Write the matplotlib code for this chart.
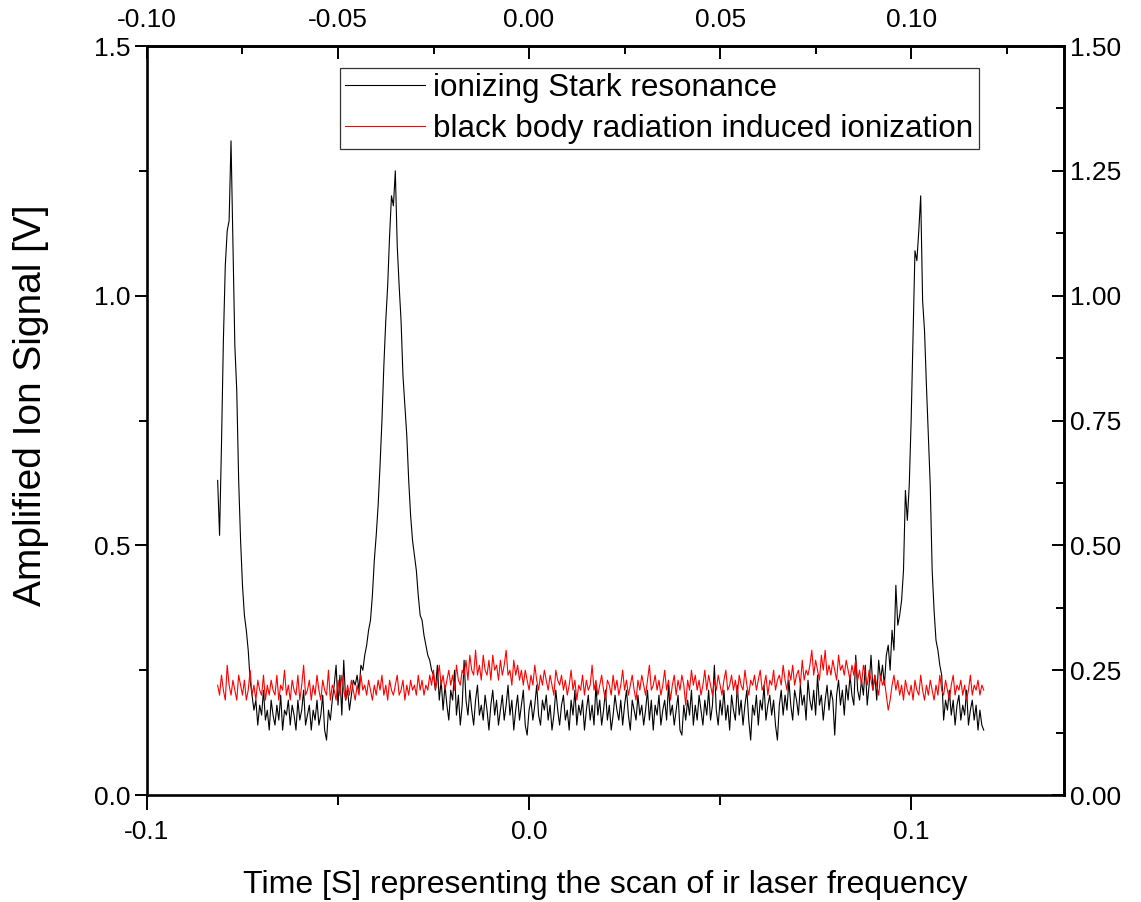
# stark_scan.py
# Ion signal during the ir laser scan: Stark resonances vs black body ionization

import numpy as np
import matplotlib
matplotlib.use("Agg")
import matplotlib.pyplot as plt
from matplotlib.ticker import MultipleLocator, FormatStrFormatter

plt.rcParams['font.family'] = ['Liberation Sans', 'DejaVu Sans']
plt.rcParams['axes.unicode_minus'] = False

# scan window (time axis, evenly sampled)
t_start = -0.0815
t_end = 0.1190

# ionizing Stark resonance trace [V]
stark = [
    0.63, 0.52, 0.70, 0.91, 1.06, 1.13, 1.15, 1.31, 1.10, 0.90,
    0.81, 0.63, 0.51, 0.42, 0.36, 0.33, 0.29, 0.23, 0.20, 0.17,
    0.19, 0.14, 0.18, 0.16, 0.21, 0.15, 0.17, 0.13, 0.19, 0.16,
    0.14, 0.18, 0.15, 0.20, 0.13, 0.17, 0.16, 0.19, 0.14, 0.18,
    0.16, 0.13, 0.19, 0.15, 0.17, 0.21, 0.14, 0.16, 0.18, 0.13,
    0.17, 0.15, 0.19, 0.14, 0.16, 0.20, 0.13, 0.11, 0.17, 0.15,
    0.19, 0.22, 0.26, 0.18, 0.24, 0.16, 0.27, 0.19, 0.21, 0.17,
    0.20, 0.23, 0.22, 0.24, 0.21, 0.26, 0.25, 0.28, 0.30, 0.33,
    0.35, 0.40, 0.47, 0.52, 0.58, 0.66, 0.75, 0.86, 0.95, 1.02,
    1.12, 1.20, 1.18, 1.25, 1.10, 1.02, 0.95, 0.84, 0.78, 0.72,
    0.63, 0.56, 0.51, 0.48, 0.45, 0.40, 0.36, 0.35, 0.32, 0.30,
    0.28, 0.27, 0.25, 0.24, 0.21, 0.26, 0.19, 0.23, 0.17, 0.22,
    0.18, 0.15, 0.21, 0.19, 0.25, 0.16, 0.20, 0.14, 0.18, 0.27,
    0.19, 0.16, 0.21, 0.17, 0.14, 0.19, 0.22, 0.16, 0.18, 0.15,
    0.20, 0.17, 0.13, 0.18, 0.21, 0.16, 0.19, 0.14, 0.17, 0.20,
    0.15, 0.18, 0.22, 0.16, 0.19, 0.13, 0.17, 0.20, 0.15, 0.18,
    0.21, 0.14, 0.12, 0.17, 0.19, 0.15, 0.18, 0.22, 0.16, 0.14,
    0.19, 0.17, 0.20, 0.15, 0.18, 0.13, 0.16, 0.21, 0.17, 0.14,
    0.18, 0.20, 0.15, 0.17, 0.13, 0.19, 0.16, 0.21, 0.14, 0.18,
    0.16, 0.19, 0.13, 0.17, 0.20, 0.15, 0.18, 0.14, 0.22, 0.16,
    0.19, 0.14, 0.17, 0.21, 0.15, 0.18, 0.13, 0.16, 0.20, 0.17,
    0.15, 0.19, 0.14, 0.18, 0.21, 0.16, 0.13, 0.19, 0.17, 0.15,
    0.20, 0.16, 0.18, 0.14, 0.17, 0.21, 0.15, 0.19, 0.13, 0.18,
    0.16, 0.20, 0.14, 0.17, 0.19, 0.15, 0.22, 0.16, 0.18, 0.14,
    0.17, 0.20, 0.13, 0.12, 0.18, 0.15, 0.19, 0.16, 0.21, 0.14,
    0.18, 0.15, 0.20, 0.17, 0.14, 0.19, 0.16, 0.21, 0.15, 0.18,
    0.26, 0.17, 0.14, 0.19, 0.16, 0.21, 0.15, 0.18, 0.13, 0.20,
    0.17, 0.15, 0.22, 0.16, 0.19, 0.14, 0.18, 0.21, 0.15, 0.11,
    0.18, 0.16, 0.20, 0.14, 0.19, 0.17, 0.22, 0.15, 0.18, 0.20,
    0.16, 0.19, 0.14, 0.11, 0.18, 0.21, 0.16, 0.20, 0.17, 0.23,
    0.18, 0.15, 0.21, 0.19, 0.16, 0.22, 0.18, 0.20, 0.15, 0.23,
    0.19, 0.17, 0.21, 0.16, 0.24, 0.18, 0.20, 0.15, 0.19, 0.22,
    0.17, 0.21, 0.19, 0.12, 0.20, 0.23, 0.18, 0.21, 0.16, 0.22,
    0.19, 0.24, 0.20, 0.18, 0.28, 0.21, 0.19, 0.23, 0.20, 0.26,
    0.18, 0.22, 0.28, 0.21, 0.24, 0.19, 0.27, 0.23, 0.26, 0.22,
    0.28, 0.30, 0.25, 0.33, 0.29, 0.42, 0.34, 0.36, 0.39, 0.45,
    0.61, 0.55, 0.62, 0.75, 0.92, 1.09, 1.07, 1.13, 1.20, 0.99,
    0.93, 0.82, 0.72, 0.62, 0.45, 0.37, 0.31, 0.29, 0.26, 0.24,
    0.15, 0.19, 0.17, 0.21, 0.16, 0.19, 0.14, 0.18, 0.20, 0.15,
    0.18, 0.16, 0.21, 0.14, 0.17, 0.19, 0.15, 0.18, 0.13, 0.17,
    0.14, 0.13,
]

# black body radiation induced ionization trace [V]
blackbody = [
    0.22, 0.20, 0.24, 0.21, 0.19, 0.26, 0.22, 0.20, 0.23, 0.21,
    0.19, 0.24, 0.22, 0.20, 0.23, 0.19, 0.21, 0.25, 0.20, 0.22,
    0.19, 0.23, 0.21, 0.20, 0.24, 0.19, 0.22, 0.20, 0.23, 0.21,
    0.20, 0.24, 0.19, 0.22, 0.21, 0.25, 0.20, 0.22, 0.19, 0.23,
    0.21, 0.20, 0.24, 0.19, 0.22, 0.26, 0.20, 0.21, 0.23, 0.19,
    0.22, 0.20, 0.24, 0.21, 0.19, 0.23, 0.21, 0.20, 0.25, 0.19,
    0.22, 0.21, 0.19, 0.23, 0.20, 0.24, 0.21, 0.19, 0.22, 0.20,
    0.23, 0.21, 0.19, 0.22, 0.20, 0.24, 0.21, 0.22, 0.20, 0.23,
    0.21, 0.19, 0.22, 0.20, 0.23, 0.21, 0.24, 0.20, 0.22, 0.19,
    0.23, 0.21, 0.20, 0.22, 0.24, 0.20, 0.21, 0.23, 0.19, 0.22,
    0.20, 0.23, 0.21, 0.22, 0.20, 0.24, 0.21, 0.23, 0.20, 0.22,
    0.21, 0.24, 0.22, 0.25, 0.21, 0.23, 0.26, 0.22, 0.24, 0.21,
    0.23, 0.25, 0.22, 0.24, 0.21, 0.26, 0.23, 0.22, 0.25, 0.24,
    0.27, 0.23, 0.28, 0.25, 0.24, 0.29, 0.24, 0.26, 0.23, 0.28,
    0.25, 0.24, 0.27, 0.23, 0.28, 0.25, 0.26, 0.23, 0.27, 0.24,
    0.26, 0.29, 0.24, 0.25, 0.22, 0.27, 0.24, 0.26, 0.23, 0.25,
    0.22, 0.25, 0.23, 0.21, 0.24, 0.22, 0.26, 0.23, 0.21, 0.24,
    0.22, 0.25, 0.23, 0.21, 0.24, 0.22, 0.20, 0.25, 0.23, 0.22,
    0.24, 0.21, 0.23, 0.20, 0.22, 0.25, 0.21, 0.23, 0.19, 0.22,
    0.21, 0.24, 0.20, 0.23, 0.21, 0.22, 0.26, 0.21, 0.23, 0.20,
    0.22, 0.24, 0.21, 0.19, 0.23, 0.22, 0.20, 0.24, 0.21, 0.23,
    0.20, 0.22, 0.25, 0.21, 0.23, 0.20, 0.22, 0.24, 0.21, 0.19,
    0.23, 0.21, 0.24, 0.22, 0.20, 0.23, 0.26, 0.21, 0.22, 0.24,
    0.21, 0.23, 0.20, 0.22, 0.25, 0.21, 0.23, 0.19, 0.22, 0.24,
    0.20, 0.23, 0.21, 0.24, 0.22, 0.18, 0.23, 0.21, 0.25, 0.22,
    0.24, 0.21, 0.23, 0.20, 0.22, 0.25, 0.21, 0.24, 0.22, 0.20,
    0.23, 0.21, 0.24, 0.22, 0.20, 0.23, 0.25, 0.21, 0.22, 0.24,
    0.21, 0.23, 0.20, 0.24, 0.22, 0.21, 0.25, 0.22, 0.20, 0.23,
    0.22, 0.24, 0.21, 0.23, 0.25, 0.21, 0.22, 0.24, 0.20, 0.23,
    0.22, 0.25, 0.21, 0.23, 0.24, 0.22, 0.26, 0.23, 0.21, 0.25,
    0.23, 0.26, 0.22, 0.24, 0.25, 0.22, 0.27, 0.23, 0.25, 0.24,
    0.26, 0.29, 0.24, 0.27, 0.25, 0.23, 0.28, 0.25, 0.29, 0.24,
    0.26, 0.24, 0.27, 0.25, 0.23, 0.28, 0.25, 0.26, 0.24, 0.27,
    0.25, 0.23, 0.26, 0.24, 0.27, 0.23, 0.25, 0.22, 0.26, 0.24,
    0.22, 0.25, 0.23, 0.21, 0.24, 0.22, 0.20, 0.24, 0.22, 0.23,
    0.20, 0.17, 0.19, 0.22, 0.24, 0.21, 0.23, 0.20, 0.22, 0.19,
    0.23, 0.21, 0.20, 0.22, 0.19, 0.23, 0.21, 0.20, 0.24, 0.21,
    0.19, 0.22, 0.20, 0.23, 0.21, 0.19, 0.22, 0.20, 0.24, 0.21,
    0.20, 0.23, 0.21, 0.19, 0.22, 0.24, 0.20, 0.22, 0.21, 0.23,
    0.20, 0.22, 0.19, 0.21, 0.24, 0.20, 0.22, 0.21, 0.23, 0.20,
    0.22, 0.21,
]

series_labels = ["ionizing Stark resonance",
                 "black body radiation induced ionization"]
series_colors = ["black", "red"]

x_label = "Time [S] representing the scan of ir laser frequency"
y_label = "Amplified Ion Signal [V]"

t = np.linspace(t_start, t_end, len(stark))

fig = plt.figure(figsize=(11.41, 9.02), dpi=100)
ax = fig.add_axes([0.1288, 0.1186, 0.8037, 0.8304])

ax.plot(t, stark, color=series_colors[0], lw=0.8, label=series_labels[0])
ax.plot(t, blackbody, color=series_colors[1], lw=0.8, label=series_labels[1])

ax.set_xlim(-0.1, 0.14)
ax.set_ylim(0.0, 1.5)

tick_fs = 19
for sp in ax.spines.values():
    sp.set_linewidth(1.9)

# bottom / left: outward ticks
ax.xaxis.set_major_locator(MultipleLocator(0.1))
ax.xaxis.set_minor_locator(MultipleLocator(0.05))
ax.xaxis.set_major_formatter(FormatStrFormatter('%.1f'))
ax.yaxis.set_major_locator(MultipleLocator(0.5))
ax.yaxis.set_minor_locator(MultipleLocator(0.25))
ax.yaxis.set_major_formatter(FormatStrFormatter('%.1f'))
ax.tick_params(which='major', direction='out', length=9, width=1.4,
               labelsize=tick_fs, pad=3)
ax.tick_params(which='minor', direction='out', length=6, width=1.4)
ax.tick_params(axis='x', which='major', length=11, pad=7)
ax.tick_params(axis='x', which='minor', length=7)

# top axis
top = ax.secondary_xaxis('top')
top.xaxis.set_major_locator(MultipleLocator(0.05))
top.xaxis.set_minor_locator(MultipleLocator(0.025))
top.xaxis.set_major_formatter(FormatStrFormatter('%.2f'))
top.tick_params(which='major', direction='in', length=9, width=1.4,
                labelsize=tick_fs, pad=10)
top.tick_params(which='minor', direction='in', length=6, width=1.4)
top.spines['top'].set_linewidth(1.9)

# right axis
right = ax.secondary_yaxis('right')
right.yaxis.set_major_locator(MultipleLocator(0.25))
right.yaxis.set_minor_locator(MultipleLocator(0.125))
right.yaxis.set_major_formatter(FormatStrFormatter('%.2f'))
right.tick_params(which='major', direction='in', length=9, width=1.4,
                  labelsize=tick_fs, pad=4)
right.tick_params(which='minor', direction='in', length=6, width=1.4)
right.spines['right'].set_linewidth(1.9)

ax.set_xlabel(x_label, fontsize=23, labelpad=19)
ax.set_ylabel(y_label, fontsize=28)
ax.yaxis.set_label_coords(-0.107, 0.52)

leg = ax.legend(loc='upper left', bbox_to_anchor=(0.21, 0.971),
                borderaxespad=0, fontsize=22.6, frameon=True, fancybox=False,
                handlelength=2.55, handletextpad=0.25, labelspacing=0.33,
                borderpad=0.18)
leg.get_frame().set_edgecolor('black')
leg.get_frame().set_linewidth(0.9)

fig.savefig("out.png", dpi=100)
